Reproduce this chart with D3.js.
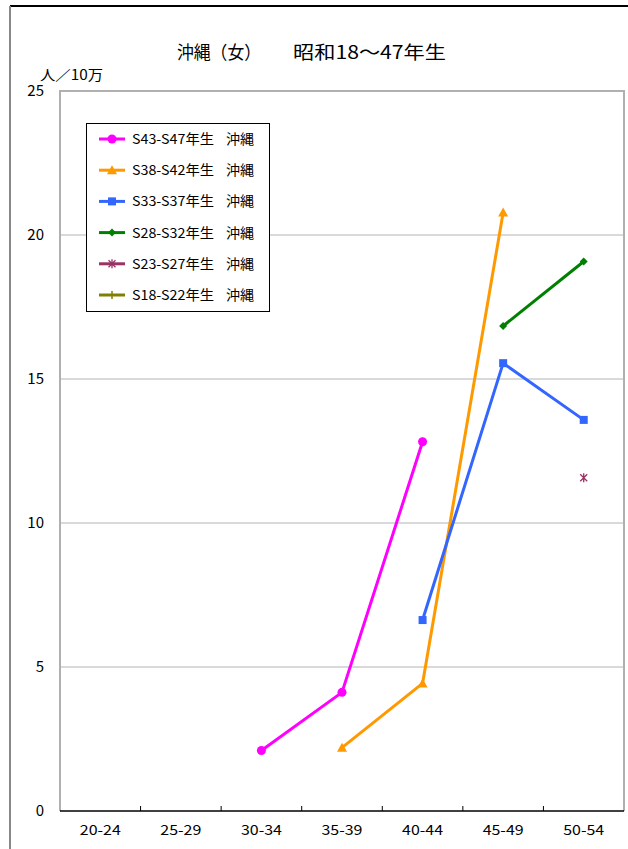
<!DOCTYPE html>
<html><head><meta charset="utf-8">
<script src="https://cdn.jsdelivr.net/npm/d3@7"></script>
<style>body{margin:0;background:#fff}svg{display:block}text{font-family:"Noto Sans CJK JP","Noto Sans",sans-serif}</style>
</head><body><svg id="c" width="628" height="849"></svg>
<script>
const categories = ["20-24","25-29","30-34","35-39","40-44","45-49","50-54"];
const seriesNames = ["S43-S47年生 沖縄","S38-S42年生 沖縄","S33-S37年生 沖縄","S28-S32年生 沖縄","S23-S27年生 沖縄","S18-S22年生 沖縄"];
const s43_47 = [null,null,2.1,4.12,12.82,null,null];
const s38_42 = [null,null,null,2.2,4.43,20.78,null];
const s33_37 = [null,null,null,null,6.63,15.55,13.58];
const s28_32 = [null,null,null,null,null,16.84,19.08];
const s23_27 = [null,null,null,null,null,null,11.57];
const s18_22 = [null,null,null,null,null,null,null];
const yTicks = [0,5,10,15,20,25];
const colors = ["#FF00FF","#FF9900","#3366FF","#008000","#993366","#808000"];
const markers = ["circle","triangle","square","diamond","star","plus"];
const seriesValues = [s43_47,s38_42,s33_37,s28_32,s23_27,s18_22];

const svg = d3.select("#c");
const L=60,R=624,T=91,B=811;
const x = d3.scaleBand().domain(categories).range([L,R]).padding(0);
const y = d3.scaleLinear().domain([0,25]).range([B,T]);

// outer chart frame
svg.append("line").attr("x1",10).attr("x2",628).attr("y1",6).attr("y2",6).attr("stroke","#000").attr("stroke-width",2);
svg.append("line").attr("x1",10).attr("x2",10).attr("y1",6).attr("y2",849).attr("stroke","#888").attr("stroke-width",2);

// title
const title = svg.append("text").attr("y",59).attr("font-size",18).attr("fill","#000");
title.append("tspan").attr("x",177).attr("textLength",84).attr("lengthAdjust","spacingAndGlyphs").text("沖縄（女）");
title.append("tspan").attr("x",293).attr("textLength",153).attr("lengthAdjust","spacingAndGlyphs").text("昭和18～47年生");

// grid
svg.append("g").selectAll("line").data(yTicks.filter(d=>d>0&&d<25)).join("line")
  .attr("x1",L).attr("x2",R).attr("y1",d=>y(d)).attr("y2",d=>y(d))
  .attr("stroke","#b4b4b4").attr("stroke-width",1);
// plot frame
svg.append("path").attr("d",`M${L},${B}V${T}H${R}V${B}`).attr("fill","none").attr("stroke","#b0b0b0").attr("stroke-width",2);

// y axis labels
const yAxis = d3.axisLeft(y).tickValues(yTicks).tickSize(0).tickPadding(16);
const gy = svg.append("g").attr("transform",`translate(${L},0)`).call(yAxis);
gy.select(".domain").remove();
gy.selectAll("text").attr("font-size",15).attr("fill","#000").attr("font-family","Liberation Sans, Arial, sans-serif");
svg.append("text").attr("x",40).attr("y",80).attr("font-size",14).attr("textLength",63).attr("lengthAdjust","spacingAndGlyphs").text("人／10万");

// x axis
const xTickPos = categories.slice(1).map(c=>x(c));
svg.append("g").selectAll("line").data(xTickPos).join("line")
  .attr("x1",d=>d).attr("x2",d=>d).attr("y1",B).attr("y2",B-5).attr("stroke","#000").attr("stroke-width",1);
svg.append("line").attr("x1",L).attr("x2",R).attr("y1",B).attr("y2",B).attr("stroke","#000").attr("stroke-width",1.5);
const xAxis = d3.axisBottom(x).tickSize(0).tickPadding(14);
const gx = svg.append("g").attr("transform",`translate(0,${B})`).call(xAxis);
gx.select(".domain").remove();
gx.selectAll("text").attr("font-size",14).attr("fill","#000").attr("textLength",41).attr("lengthAdjust","spacingAndGlyphs");

function drawMarker(g, type, color, cx, cy){
  if(type==="circle") g.append("circle").attr("cx",cx).attr("cy",cy).attr("r",4.5).attr("fill",color);
  else if(type==="square") g.append("rect").attr("x",cx-4).attr("y",cy-4).attr("width",8).attr("height",8).attr("fill",color);
  else if(type==="triangle") g.append("path").attr("d",`M${cx},${cy-5}L${cx+5},${cy+4}L${cx-5},${cy+4}Z`).attr("fill",color);
  else if(type==="diamond") g.append("path").attr("d",`M${cx},${cy-4}L${cx+4},${cy}L${cx},${cy+4}L${cx-4},${cy}Z`).attr("fill",color);
  else if(type==="star") g.append("path").attr("d",`M${cx-3.5},${cy-3.5}L${cx+3.5},${cy+3.5}M${cx+3.5},${cy-3.5}L${cx-3.5},${cy+3.5}M${cx},${cy-4.5}V${cy+4.5}`).attr("stroke",color).attr("stroke-width",1.3).attr("fill","none");
  else if(type==="plus") g.append("path").attr("d",`M${cx-4},${cy}H${cx+4}M${cx},${cy-4}V${cy+4}`).attr("stroke",color).attr("stroke-width",1.5);
}

// series
const line = d3.line().defined(d=>d.v!=null).x(d=>x(d.c)+x.bandwidth()/2).y(d=>y(d.v));
seriesValues.forEach((vals,i)=>{
  const pts = categories.map((c,j)=>({c, v: vals[j]}));
  const g = svg.append("g");
  g.append("path").datum(pts).attr("d",line).attr("fill","none").attr("stroke",colors[i]).attr("stroke-width",3).attr("stroke-linejoin","round");
  pts.filter(p=>p.v!=null).forEach(p=>drawMarker(g, markers[i], colors[i], x(p.c)+x.bandwidth()/2, y(p.v)));
});

// legend
const lg = svg.append("g");
lg.append("rect").attr("x",86.5).attr("y",123.5).attr("width",183).attr("height",188).attr("fill","#fff").attr("stroke","#000").attr("stroke-width",1);
seriesNames.forEach((n,i)=>{
  const cy = 139 + i*31.2;
  const parts = n.split(" ");
  lg.append("line").attr("x1",99).attr("x2",125).attr("y1",cy).attr("y2",cy).attr("stroke",colors[i]).attr("stroke-width",3);
  drawMarker(lg, markers[i], colors[i], 112, cy);
  const t = lg.append("text").attr("y",cy+5).attr("font-size",13.5).attr("fill","#000");
  t.append("tspan").attr("x",132).attr("textLength",82).attr("lengthAdjust","spacingAndGlyphs").text(parts[0]);
  t.append("tspan").attr("x",226).attr("textLength",28).attr("lengthAdjust","spacingAndGlyphs").text(parts[1]);
});
</script></body></html>
